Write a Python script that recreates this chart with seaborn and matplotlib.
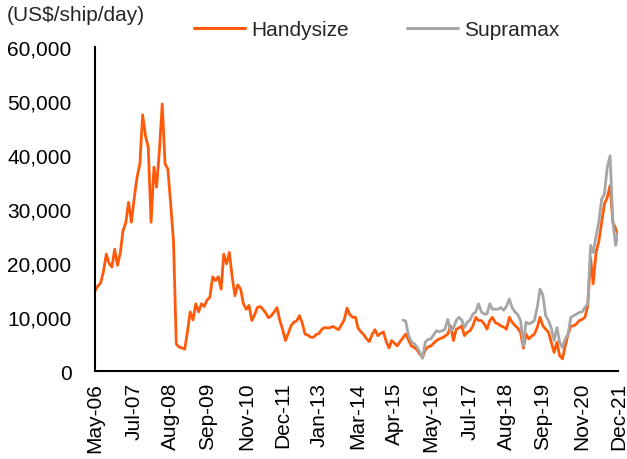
import numpy as np
import pandas as pd
import matplotlib
matplotlib.use('Agg')
import matplotlib.pyplot as plt
import seaborn as sns

# monthly time charter rates, US$/ship/day
start_month = '2006-05-01'
supramax_start = '2015-07-01'

handysize = [
    # May-06 .. Apr-07
    14900, 15800, 16300, 18500, 21700, 20000, 19300, 22600, 19600, 22000, 26000, 27500,
    # May-07 .. Apr-08
    31300, 27600, 32000, 35900, 38400, 47500, 43600, 41500, 27600, 37800, 34100, 41000,
    # May-08 .. Apr-09
    49500, 38400, 37500, 31000, 24000, 5000, 4500, 4300, 4100, 7500, 11000, 9500,
    # May-09 .. Apr-10
    12500, 11000, 12500, 12000, 13200, 13700, 17500, 16800, 17500, 15200, 21700, 19900,
    # May-10 .. Apr-11
    22000, 17500, 14000, 16000, 15200, 12500, 11500, 12200, 9400, 10500, 11800, 12000,
    # May-11 .. Apr-12
    11500, 10800, 9900, 10300, 11000, 11800, 9400, 7800, 5700, 7000, 8400, 9100,
    # May-12 .. Apr-13
    9300, 10300, 9000, 6900, 6700, 6300, 6300, 6800, 7000, 7800, 8100, 8000,
    # May-13 .. Apr-14
    8100, 8300, 8000, 7700, 8600, 9500, 11700, 10500, 10000, 10000, 8000, 7300,
    # May-14 .. Apr-15
    6800, 6000, 5500, 6800, 7700, 6600, 7000, 7300, 5500, 4300, 5700, 5200,
    # May-15 .. Apr-16
    4700, 5500, 6200, 6900, 5800, 4700, 4400, 4000, 3200, 2600, 4000, 4500,
    # May-16 .. Apr-17
    4700, 5200, 5700, 6000, 6200, 6500, 6900, 8400, 5700, 7800, 8000, 8400,
    # May-17 .. Apr-18
    6600, 7200, 7500, 8400, 10000, 9400, 9400, 8800, 7800, 9400, 10000, 9000,
    # May-18 .. Apr-19
    8800, 8400, 8200, 7800, 10000, 9100, 8500, 8000, 7200, 4300, 6900, 6000,
    # May-19 .. Apr-20
    6500, 6900, 8100, 10000, 8400, 7800, 7200, 5400, 3500, 5400, 2900, 2300,
    # May-20 .. Apr-21
    4700, 6900, 8400, 8400, 8800, 9400, 9600, 10000, 12100, 21000, 16200, 22000,
    # May-21 .. Dec-21
    24000, 27600, 31000, 32200, 34400, 27600, 26400, 25100,
]

supramax = [
    # Jul-15 .. Apr-16
    9500, 9300, 6600, 5500, 5100, 4500, 3500, 2400, 5400, 5900,
    # May-16 .. Apr-17
    6000, 6800, 7500, 7300, 7500, 7800, 9600, 7500, 8000, 9400, 10000, 9500,
    # May-17 .. Apr-18
    8100, 9100, 9500, 10600, 11000, 12500, 11000, 10600, 10600, 12500, 11500, 11500,
    # May-18 .. Apr-19
    11500, 11800, 11300, 12000, 13400, 11800, 11000, 10500, 9400, 4700, 9100, 8800,
    # May-19 .. Apr-20
    9000, 9400, 11800, 15200, 14100, 10300, 9400, 8000, 5700, 8100, 5400, 4400,
    # May-20 .. Apr-21
    6000, 6900, 10000, 10300, 10600, 10900, 11000, 11800, 12500, 23300, 22000, 25000,
    # May-21 .. Dec-21
    27600, 31900, 32800, 37800, 39900, 27600, 23300, 26000,
]

tick_labels = ['May-06', 'Jul-07', 'Aug-08', 'Sep-09', 'Nov-10', 'Dec-11', 'Jan-13',
               'Mar-14', 'Apr-15', 'May-16', 'Jul-17', 'Aug-18', 'Sep-19', 'Nov-20', 'Dec-21']

orange = '#FF5A0A'
grey = '#A6A6A6'

dates = pd.date_range(start_month, periods=len(handysize), freq='MS')
df = pd.DataFrame({'date': dates, 'Handysize': handysize})
sup = pd.DataFrame({'date': pd.date_range(supramax_start, periods=len(supramax), freq='MS'),
                    'Supramax': supramax})
df = df.merge(sup, on='date', how='left')
long_df = df.melt(id_vars='date', var_name='Series', value_name='Rate').dropna()

sns.set_style('white')
plt.rcParams['font.family'] = ['Liberation Sans', 'DejaVu Sans']

fig = plt.figure(figsize=(6.27, 4.6), dpi=100)
ax = fig.add_axes([0.1515, 0.1907, 0.8349, 0.7043])

# supramax drawn last so it sits on top of handysize
sns.lineplot(data=long_df, x='date', y='Rate', hue='Series',
             hue_order=['Handysize', 'Supramax'],
             palette={'Handysize': orange, 'Supramax': grey},
             linewidth=2.0, ax=ax, legend=False)

ax.set_xlim(dates[0], dates[-1])
ax.set_ylim(0, 60000)
ax.set_yticks(range(0, 60001, 10000))
ax.set_yticklabels([f'{v:,}' for v in range(0, 60001, 10000)], fontsize=15)
tick_dates = [pd.to_datetime(t, format='%b-%y') for t in tick_labels]
ax.set_xticks(tick_dates)
ax.set_xticklabels(tick_labels, rotation=90, fontsize=15)
ax.set_xlabel('')
ax.set_ylabel('')

for side in ['top', 'right']:
    ax.spines[side].set_visible(False)
for side in ['left', 'bottom']:
    ax.spines[side].set_color('black')
    ax.spines[side].set_linewidth(1.5)
ax.tick_params(axis='both', direction='out', length=4.5, width=1.5, color='black',
               labelcolor='black')
ax.tick_params(axis='y', pad=12.5)
ax.tick_params(axis='x', pad=3)

fig.text(0.011, 0.966, '(US$/ship/day)', fontsize=15, va='center', ha='left')

handles = [plt.Line2D([], [], color=orange, linewidth=2.2),
           plt.Line2D([], [], color=grey, linewidth=2.2)]
fig.legend(handles, ['Handysize', 'Supramax'], loc='center left',
           bbox_to_anchor=(0.309, 0.934), ncol=2, frameon=False, fontsize=15,
           handlelength=2.45, handletextpad=0.3, columnspacing=2.8,
           borderpad=0, borderaxespad=0)

fig.savefig('out.png', dpi=100)
